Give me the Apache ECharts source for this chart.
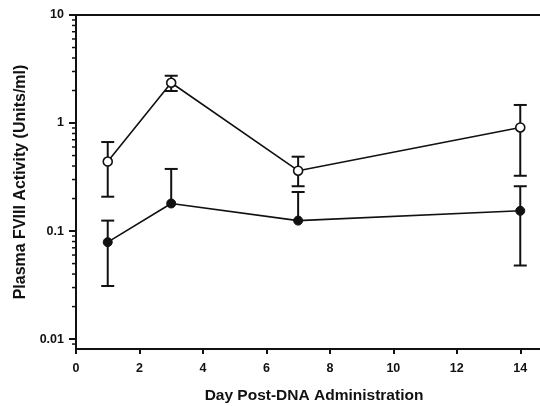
<!DOCTYPE html>
<html>
<head>
<meta charset="utf-8">
<script src="https://cdn.jsdelivr.net/npm/echarts@6/dist/echarts.min.js"></script>
<style>html,body{margin:0;padding:0;background:#fff}#c{width:540px;height:406px}</style>
</head>
<body>
<div id="c"></div>
<script>
// ---- data ----
var days = [1, 3, 7, 14];
var openMean  = [0.44, 2.36, 0.362, 0.91];
var openUpper = [0.667, 2.74, 0.488, 1.47];
var openLower = [0.208, 1.98, 0.26, 0.325];
var filledMean  = [0.079, 0.18, 0.125, 0.154];
var filledUpper = [0.125, 0.376, 0.23, 0.26];
var filledLower = [0.031, null, null, 0.048];
var xTicks = [0, 2, 4, 6, 8, 10, 12, 14];
var yMajor = [0.01, 0.1, 1, 10];
var xTitle = 'Day Post-DNA Administration';
var yTitle = 'Plasma FVIII Activity (Units/ml)';

var yMin = 0.0081, yMax = 10;
var minorVals = [];
[0.001, 0.01, 0.1, 1].forEach(function (d) {
  for (var k = 2; k <= 9; k++) {
    var v = +(d * k).toPrecision(3);
    if (v >= yMin && v < yMax) minorVals.push(v);
  }
});

function pairs(xs, ys) { return xs.map(function (x, i) { return [x, ys[i]]; }); }
function errData(xs, m, lo, hi) {
  return xs.map(function (x, i) {
    return [x, lo[i] == null ? m[i] : lo[i], hi[i] == null ? m[i] : hi[i], lo[i] == null ? 0 : 1, hi[i] == null ? 0 : 1];
  });
}

var INK = '#111';
var font = 'Liberation Sans, Arial, sans-serif';

function errRender(params, api) {
  var x = api.value(0);
  var p1 = api.coord([x, api.value(1)]);
  var p2 = api.coord([x, api.value(2)]);
  var hasLo = api.value(3), hasHi = api.value(4);
  var w = 6.5;
  var ch = [{ type: 'line', shape: { x1: p1[0], y1: p1[1], x2: p2[0], y2: p2[1] }, style: { stroke: INK, lineWidth: 2 } }];
  if (hasLo) ch.push({ type: 'line', shape: { x1: p1[0] - w, y1: p1[1], x2: p1[0] + w, y2: p1[1] }, style: { stroke: INK, lineWidth: 2 } });
  if (hasHi) ch.push({ type: 'line', shape: { x1: p2[0] - w, y1: p2[1], x2: p2[0] + w, y2: p2[1] }, style: { stroke: INK, lineWidth: 2 } });
  return { type: 'group', children: ch };
}

function minorRender(params, api) {
  var p = api.coord([0, api.value(0)]);
  return { type: 'line', shape: { x1: p[0] - 4, y1: p[1], x2: p[0], y2: p[1] }, style: { stroke: INK, lineWidth: 1.5 } };
}

var chart = echarts.init(document.getElementById('c'), null, { renderer: 'canvas' });
chart.setOption({
  animation: false,
  backgroundColor: '#fff',
  grid: { left: 76, right: -12, top: 15, bottom: 57, containLabel: false, outerBoundsMode: 'none' },
  xAxis: [{
    type: 'value', min: 0, max: 15, interval: 2,
    name: xTitle, nameLocation: 'middle', nameGap: 39,
    nameTextStyle: { fontFamily: font, fontWeight: 'bold', fontSize: 15.5, color: INK },
    axisLine: { onZero: false, lineStyle: { color: INK, width: 2 } },
    axisTick: { show: true, inside: false, length: 5, lineStyle: { color: INK, width: 2 },
      customValues: xTicks },
    axisLabel: { fontFamily: font, fontWeight: 'bold', fontSize: 12.5, color: INK, margin: 13,
      customValues: xTicks },
    splitLine: { show: false }
  }, {
    type: 'value', position: 'top', min: 0, max: 15,
    axisLine: { show: true, onZero: false, lineStyle: { color: INK, width: 2 } },
    axisTick: { show: false }, axisLabel: { show: false }, splitLine: { show: false }
  }],
  yAxis: {
    type: 'log', logBase: 10, min: yMin, max: yMax,
    name: yTitle, nameLocation: 'middle', nameGap: 47,
    nameTextStyle: { fontFamily: font, fontWeight: 'bold', fontSize: 16, color: INK },
    axisLine: { onZero: false, lineStyle: { color: INK, width: 2 } },
    axisTick: { show: true, inside: false, length: 7, lineStyle: { color: INK, width: 2 } },
    axisLabel: { fontFamily: font, fontWeight: 'bold', fontSize: 12.5, color: INK, margin: 12, showMinLabel: false,
      formatter: function (v) { return yMajor.some(function (m) { return Math.abs(m - v) / m < 1e-6; }) ? String(v) : ''; } },
    splitLine: { show: false }
  },
  series: [
    { type: 'custom', renderItem: minorRender, data: minorVals.map(function (v) { return [v]; }),
      encode: { y: 0 }, clip: false, silent: true, z: 1 },
    { type: 'custom', renderItem: errRender, data: errData(days, openMean, openLower, openUpper),
      encode: { x: 0, y: [1, 2] }, silent: true, z: 2 },
    { type: 'custom', renderItem: errRender, data: errData(days, filledMean, filledLower, filledUpper),
      encode: { x: 0, y: [1, 2] }, silent: true, z: 2 },
    { type: 'line', data: pairs(days, openMean), symbol: 'circle', symbolSize: 9, showAllSymbol: true,
      lineStyle: { color: INK, width: 1.6 }, itemStyle: { color: '#fff', borderColor: INK, borderWidth: 1.6 }, z: 3 },
    { type: 'line', data: pairs(days, filledMean), symbol: 'circle', symbolSize: 9, showAllSymbol: true,
      lineStyle: { color: INK, width: 1.6 }, itemStyle: { color: INK, borderColor: INK, borderWidth: 1 }, z: 3 }
  ]
});
</script>
</body>
</html>
